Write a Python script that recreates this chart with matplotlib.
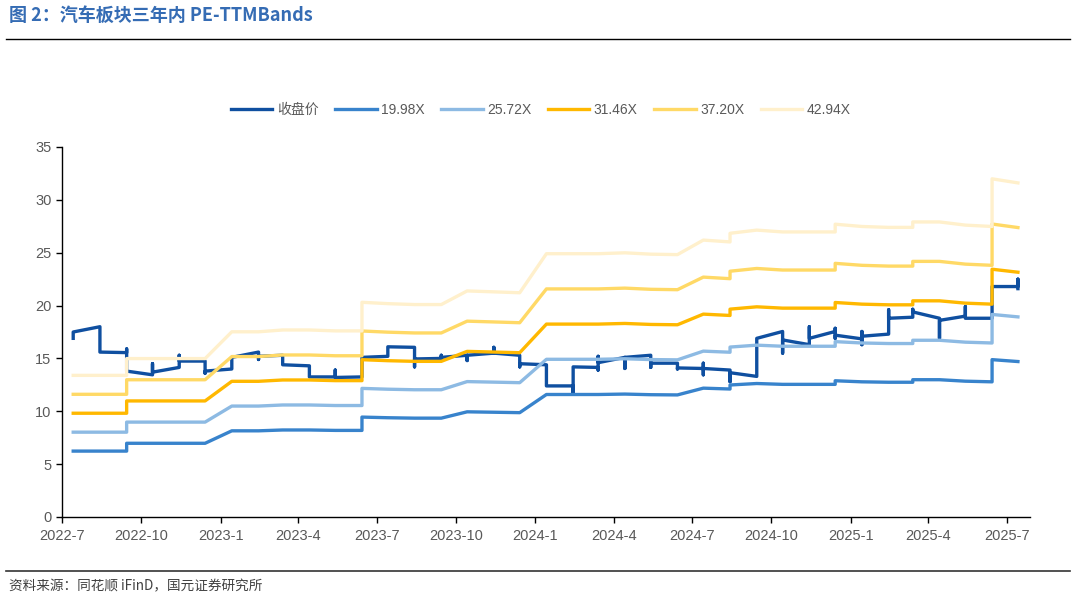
import pandas as pd
import matplotlib
matplotlib.use("Agg")
import matplotlib.pyplot as plt
from matplotlib.lines import Line2D

plt.rcParams['font.family'] = ['Liberation Sans', 'Noto Sans CJK SC']

# PE 倍数（图例）
pe_multiples = [19.98, 25.72, 31.46, 37.20, 42.94]
band_labels = ["19.98X", "25.72X", "31.46X", "37.20X", "42.94X"]

# EPS（TTM）按月，同一月份重复表示月内跳变
band_months = ["2022-07", "2022-08", "2022-09", "2022-09", "2022-10", "2022-11", "2022-12",
               "2023-01", "2023-02", "2023-03", "2023-04", "2023-05", "2023-06", "2023-06",
               "2023-07", "2023-08", "2023-09", "2023-10", "2023-11", "2023-12",
               "2024-01", "2024-02", "2024-03", "2024-04", "2024-05", "2024-06", "2024-07",
               "2024-08", "2024-08", "2024-09", "2024-10", "2024-11", "2024-12", "2024-12",
               "2025-01", "2025-02", "2025-03", "2025-03", "2025-04", "2025-05", "2025-06",
               "2025-06", "2025-07"]
eps = [0.312, 0.312, 0.312, 0.349, 0.349, 0.349, 0.349,
       0.408, 0.408, 0.412, 0.412, 0.410, 0.410, 0.473,
       0.470, 0.468, 0.468, 0.498, 0.496, 0.494,
       0.580, 0.580, 0.580, 0.582, 0.579, 0.578, 0.610,
       0.606, 0.625, 0.632, 0.628, 0.628, 0.628, 0.645,
       0.640, 0.638, 0.638, 0.650, 0.650, 0.643, 0.640,
       0.745, 0.736]

# 收盘价（月内最高/最低显示为竖线）
price_months = ["2022-07"] * 2 + ["2022-08"] * 2 + ["2022-09"] * 3 + ["2022-10"] * 3 + \
               ["2022-11"] * 3 + ["2022-12"] * 3 + ["2023-01"] * 2 + ["2023-02"] * 3 + \
               ["2023-03"] * 2 + ["2023-04"] * 2 + ["2023-05"] * 3 + ["2023-06"] * 2 + \
               ["2023-07"] * 2 + ["2023-08"] * 3 + ["2023-09"] * 4 + ["2023-10"] * 3 + \
               ["2023-11"] * 3 + ["2023-12"] * 3 + ["2024-01"] * 2 + ["2024-02"] * 3 + \
               ["2024-03"] * 4 + ["2024-04"] * 3 + ["2024-05"] * 3 + ["2024-06"] * 3 + \
               ["2024-07"] * 4 + ["2024-08"] * 3 + ["2024-09"] * 2 + ["2024-10"] * 3 + \
               ["2024-11"] * 3 + ["2024-12"] * 4 + ["2025-01"] * 4 + ["2025-02"] * 3 + \
               ["2025-03"] * 3 + ["2025-04"] * 3 + ["2025-05"] * 3 + ["2025-06"] * 3 + \
               ["2025-07"] * 3
price = [16.9, 17.5, 18.0, 15.6, 15.55, 15.9, 13.8, 13.45, 14.5, 13.7,
         14.15, 15.3, 14.75, 14.75, 13.6, 13.8, 14.0, 15.1, 15.6, 14.9, 15.2,
         15.3, 14.4, 14.3, 13.25, 13.25, 13.9, 13.2, 13.25, 15.1,
         15.2, 16.1, 16.05, 14.2, 14.95, 15.0, 15.3, 14.8, 15.1, 15.3, 14.8, 15.3,
         15.5, 16.05, 15.5, 15.3, 14.2, 14.5, 14.4, 12.4, 12.4, 11.7, 14.2,
         14.15, 13.9, 15.2, 14.6, 15.1, 14.05, 15.1, 15.3, 14.15, 14.55, 14.55, 14.0, 14.1,
         14.05, 14.55, 13.45, 14.05, 13.9, 12.8, 13.65, 13.3, 16.9, 17.55, 15.5, 16.75,
         16.3, 18.0, 16.9, 17.55, 17.85, 16.9, 17.2, 16.85, 17.55, 16.3, 17.1,
         17.3, 19.6, 18.8, 18.9, 19.65, 19.4, 18.8, 16.9, 18.6, 19.0, 19.9, 18.8,
         18.8, 19.8, 21.8, 21.8, 22.5, 21.6]

x_ticks = pd.date_range("2022-07-01", "2025-07-01", freq="3MS")

price_color = "#0F4FA0"
band_colors = ["#3883CC", "#8DBAE3", "#FFB800", "#FFD966", "#FFF0CC"]

band_x = pd.to_datetime([m + "-14" for m in band_months])
price_x = pd.to_datetime([m + "-14" for m in price_months])

fig = plt.figure(figsize=(10.75, 5.99), dpi=100)
ax = fig.add_axes([62 / 1075, 82 / 599, (1030 - 62) / 1075, (517 - 147) / 599])

ax.plot(price_x, price, color=price_color, lw=2.4, label="收盘价", solid_joinstyle="round")
for mult, lab, col in zip(pe_multiples, band_labels, band_colors):
    ax.plot(band_x, [e * mult for e in eps], color=col, lw=2.4, label=lab,
            solid_joinstyle="round")

ax.set_ylim(0, 35)
ax.set_yticks(range(0, 36, 5))
ax.set_xlim(pd.Timestamp("2022-07-01"), pd.Timestamp("2025-07-28"))
ax.set_xticks(x_ticks)
ax.set_xticklabels([f"{d.year}-{d.month}" for d in x_ticks])

for s in ["top", "right"]:
    ax.spines[s].set_visible(False)
for s in ["left", "bottom"]:
    ax.spines[s].set_color("black")
    ax.spines[s].set_linewidth(1.0)
ax.tick_params(axis="both", colors="black", labelcolor="#595959", labelsize=10.5,
               length=4, width=1)
ax.tick_params(axis="x", pad=5)

fig.legend(loc="center", bbox_to_anchor=(0.503, 0.816), ncol=6, frameon=False,
           fontsize=10, handlelength=3.0, handletextpad=0.3, columnspacing=1.2,
           labelcolor="#595959")

fig.text(0.008, 1 - 15 / 599, "图 2：汽车板块三年内 PE-TTMBands", color="#356CB4",
         fontsize=13, fontweight="bold", va="center", ha="left",
         family=["Noto Sans CJK SC", "DejaVu Sans"])
fig.add_artist(Line2D([0.006, 0.995], [1 - 39 / 599] * 2, color="black", lw=1.0))
fig.add_artist(Line2D([0.006, 0.995], [1 - 571 / 599] * 2, color="#333333", lw=1.2))
fig.text(0.008, 1 - 586 / 599, "资料来源：同花顺 iFinD，国元证券研究所", color="#404040",
         fontsize=9.8, va="center", ha="left", family=["Noto Sans CJK SC", "DejaVu Sans"])

fig.savefig("out.png", dpi=100)
